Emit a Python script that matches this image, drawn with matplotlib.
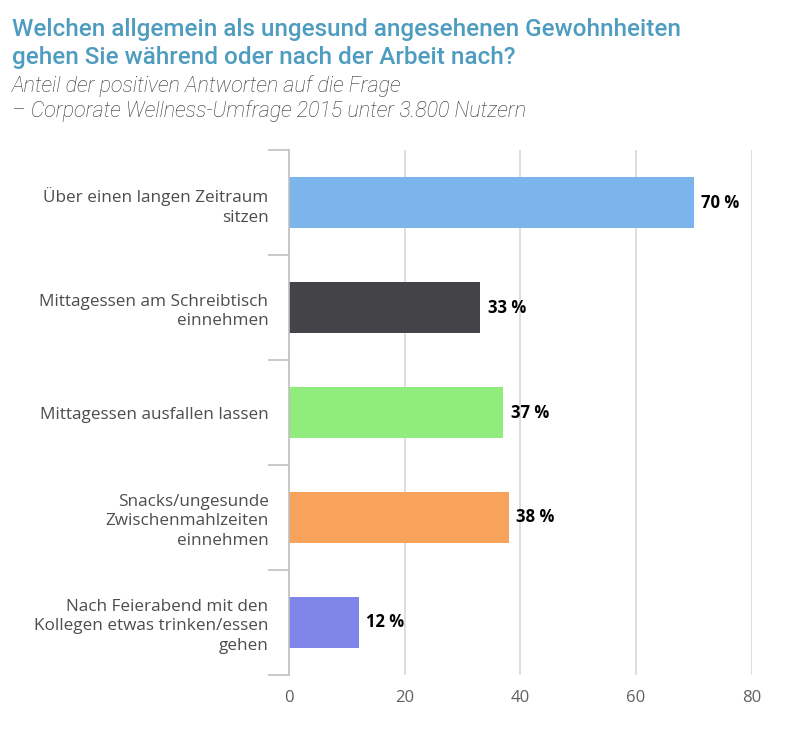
import numpy as np
import matplotlib.pyplot as plt

categories = ["Über einen langen Zeitraum\nsitzen",
              "Mittagessen am Schreibtisch\neinnehmen",
              "Mittagessen ausfallen lassen",
              "Snacks/ungesunde\nZwischenmahlzeiten\neinnehmen",
              "Nach Feierabend mit den\nKollegen etwas trinken/essen\ngehen"]
values = [70, 33, 37, 38, 12]
colors = ["#7cb5ec", "#434348", "#90ed7d", "#f7a35c", "#8085e9"]
xticks = [0, 20, 40, 60, 80]

fig = plt.figure(figsize=(7.98, 7.36), dpi=100)
ax = fig.add_axes([0.3625, 0.083, 0.942 - 0.3625, 0.713])

y = np.arange(len(categories))
ax.barh(y, values, height=0.49, color=colors, zorder=3)
for yi, v in zip(y, values):
    ax.text(v + 1.3, yi, f"{v} %", va="center", ha="left", fontsize=12,
            fontweight="bold", color="black", family="Open Sans")

ax.set_ylim(len(categories) - 0.5, -0.5)
ax.set_xlim(0, 80)
ax.set_xticks(xticks)
ax.set_yticks(np.arange(len(categories) + 1) - 0.5, minor=True)
ax.set_yticks(y)
ax.set_yticklabels(categories, fontsize=12.3, color="#4d4d4d", family="Open Sans",
                   linespacing=1.3)
ax.tick_params(axis="y", which="major", length=0, pad=15)
ax.tick_params(axis="y", which="minor", length=15, color="#c0c0c0", width=1.2)
ax.tick_params(axis="x", length=0, labelsize=12, labelcolor="#606060", pad=11)
for lbl in ax.get_xticklabels():
    lbl.set_family("Open Sans")
ax.grid(axis="x", color="#d8d8d8", linewidth=1.2, zorder=0)
for s in ["top", "right", "bottom"]:
    ax.spines[s].set_visible(False)
ax.spines["left"].set_color("#c0c0c0")
ax.spines["left"].set_linewidth(1.2)
ax.spines["left"].set_zorder(4)

fig.text(0.015, 0.976, "Welchen allgemein als ungesund angesehenen Gewohnheiten\ngehen Sie während oder nach der Arbeit nach?",
         ha="left", va="top", fontsize=17.5, color="#4e9cbf", family="Roboto",
         fontweight="medium", linespacing=1.3)
fig.text(0.015, 0.898, "Anteil der positiven Antworten auf die Frage\n– Corporate Wellness-Umfrage 2015 unter 3.800 Nutzern",
         ha="left", va="top", fontsize=15.5, color="#333333", family="Roboto",
         fontstyle="italic", fontweight="light", linespacing=1.2)

fig.savefig("out.png", dpi=100, facecolor="white")
